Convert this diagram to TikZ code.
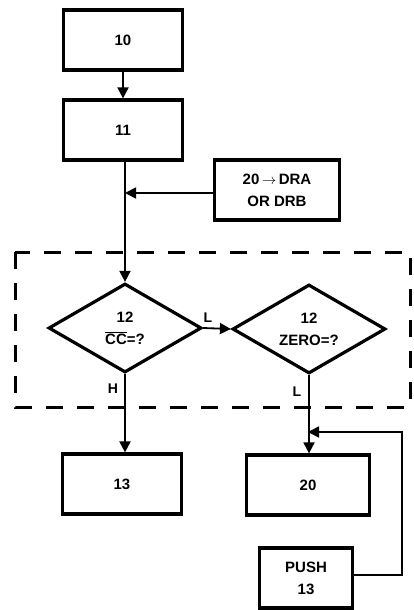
\documentclass[tikz,border=0pt]{standalone}
\usepackage{fontspec}
\setmainfont{Liberation Sans}
\usetikzlibrary{shapes.geometric,arrows.meta}
\tikzset{
  flowbox/.style={draw, line width=3.2pt, minimum width=119pt, minimum height=60pt, align=center, font=\bfseries\fontsize{15}{22}\selectfont},
  decision/.style={draw, diamond, aspect=1.72, inner sep=0pt, line width=3.2pt, minimum width=153pt, minimum height=89pt, align=center, font=\bfseries\fontsize{15}{22}\selectfont},
  flow/.style={line width=1.8pt, -{Triangle[length=11pt,width=11pt]}},
  tag/.style={font=\bfseries\fontsize{14}{16}\selectfont}
}

\begin{document}
\begin{tikzpicture}[x=1pt,y=-1pt]
   \useasboundingbox (0,0) rectangle (414,610);
   % boxes
   \node[flowbox] (b10) at (123, 40) {10};
   \node[flowbox] (b11) at (123,130) {11};
   \node[flowbox, minimum width=125pt] (dra) at (277,190) {20\,$\rightarrow$\,DRA\\OR DRB};
   \node[decision] (d1) at (125,328) {12\\$\overline{\hbox{CC}}$=?};
   \node[decision] (d2) at (309,329) {12\\ZERO=?};
   \node[flowbox] (b13) at (122,484) {13};
   \node[flowbox, minimum width=123pt] (b20) at (308,485) {20};
   \node[flowbox, minimum width=93pt] (push) at (306,578) {PUSH\\13};
   % dashed frame
   \draw[line width=3pt, dash pattern=on 17pt off 14pt] (15,252) rectangle (410,407);
   % connectors
   \coordinate (j1) at (125,193);
   \coordinate (j2) at (308,432);
   \coordinate (turn) at (402,432);
   \draw[flow] (b10) -- (b11);
   \draw[flow] (b11.south -| d1.north) -- (d1.north);
   \draw[flow] (dra.west |- j1) -- (j1);
   \draw[flow] (d1.east) -- (d2.west);
   \draw[flow] (d1.south) -- (d1.south |- b13.north);
   \draw[flow] (d2.south) -- (d2.south |- b20.north);
   \draw[flow] (push.east |- 0,575) -| (turn) -- (j2);
   % labels
   \node[tag] (lab1) at (208,318) {L};
   \node[tag] (lab2) at (113,389) {H};
   \node[tag] (lab3) at (297,392) {L};
\end{tikzpicture}
\end{document}
